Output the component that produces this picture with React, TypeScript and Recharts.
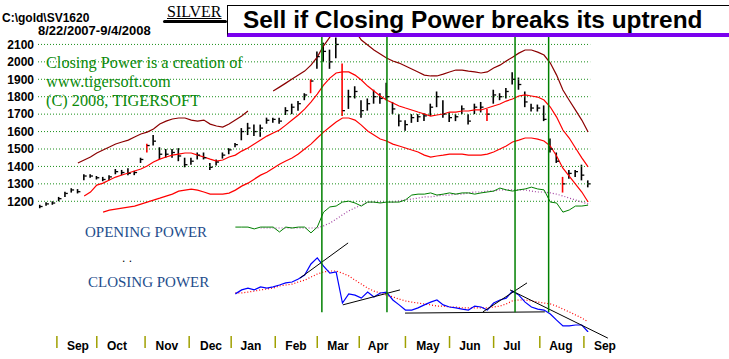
import {
  ComposedChart,
  Line,
  Bar,
  Cell,
  Scatter,
  XAxis,
  YAxis,
  ReferenceLine,
} from 'recharts';

// trading-day index of each sample (day 0 = 8/22/2007), one sample every 3 sessions
const dayIdx = [
  0, 3, 6, 9, 12, 15, 18, 21, 24, 27, 30, 33, 36, 39, 42, 45, 48, 51, 54, 57, 60, 63,
  66, 69, 72, 75, 78, 81, 84, 87, 90, 93, 96, 99, 102, 105, 108, 111, 114, 117, 120,
  123, 126, 129, 132, 135, 138, 141, 144, 147, 150, 153, 156, 159, 162, 165, 168, 171,
  174, 177, 180, 183, 186, 189, 192, 195, 198, 201, 204, 207, 210, 213, 216, 219, 222,
  225, 228, 231, 234, 237, 240, 243, 246, 249, 252, 255, 258, 261,
];

// silver price bars
const high = [
  1180, 1195, 1200, 1225, 1255, 1275, 1270, 1355, 1355, 1345,
  1340, 1350, 1385, 1380, 1390, 1375, 1450, 1530, 1580, 1510,
  1500, 1500, 1505, 1450, 1450, 1480, 1480, 1420, 1440, 1480,
  1505, 1535, 1620, 1650, 1640, 1640, 1680, 1680, 1680, 1740,
  1760, 1775, 1820, 1900, 2060, 2110, 2070, 2140, 1990, 1840,
  1860, 1780, 1790, 1840, 1820, 1880, 1770, 1700, 1665, 1700,
  1700, 1705, 1760, 1830, 1780, 1710, 1700, 1750, 1700, 1760,
  1770, 1730, 1840, 1820, 1850, 1940, 1910, 1830, 1760, 1755,
  1750, 1560, 1480, 1340, 1380, 1380, 1410, 1320,
];
const low = [
  1160, 1175, 1180, 1200, 1225, 1250, 1245, 1320, 1335, 1325,
  1315, 1320, 1355, 1350, 1350, 1350, 1420, 1480, 1520, 1440,
  1450, 1450, 1430, 1395, 1410, 1440, 1440, 1380, 1405, 1445,
  1470, 1510, 1550, 1580, 1575, 1570, 1645, 1650, 1645, 1695,
  1700, 1720, 1780, 1820, 1960, 2000, 1960, 2020, 1690, 1730,
  1790, 1680, 1720, 1760, 1760, 1780, 1700, 1630, 1605, 1650,
  1655, 1660, 1690, 1740, 1680, 1655, 1660, 1700, 1640, 1700,
  1710, 1660, 1760, 1780, 1790, 1870, 1840, 1740, 1715, 1715,
  1660, 1480, 1420, 1250, 1330, 1340, 1320, 1280,
];
const close = [
  1170, 1185, 1190, 1215, 1245, 1265, 1255, 1345, 1345, 1335,
  1325, 1340, 1370, 1365, 1360, 1365, 1440, 1520, 1545, 1470,
  1470, 1480, 1460, 1410, 1430, 1465, 1450, 1395, 1425, 1465,
  1495, 1525, 1600, 1620, 1600, 1620, 1665, 1670, 1660, 1720,
  1740, 1760, 1810, 1890, 2030, 2060, 2000, 2100, 1720, 1800,
  1830, 1720, 1760, 1800, 1790, 1800, 1730, 1660, 1640, 1680,
  1685, 1690, 1740, 1800, 1700, 1680, 1685, 1730, 1660, 1740,
  1740, 1700, 1810, 1800, 1830, 1900, 1870, 1770, 1735, 1735,
  1670, 1500, 1430, 1300, 1360, 1370, 1350, 1300,
];
// samples whose bar is painted red
const redBars = [17, 43, 48, 71, 83];

// bands
const upperBand = [
  null, null, null, null, null, null, 1420, 1437, 1454, 1477,
  1494, 1511, 1529, 1540, 1551, 1569, 1586, 1597, 1615, 1643,
  1660, 1672, 1678, 1678, 1666, 1660, 1666, 1643, 1632, 1626,
  1643, 1666, 1689, 1718, null, null, null, 1833, 1855, 1878,
  1901, 1924, 1947, 1981, 2027, 2092, 2142, 2183, 2200, 2205,
  2177, 2125, 2097, 2068, 2045, 2022, 2005, 1993, 1976, 1959,
  1942, 1924, 1919, 1919, 1930, 1942, 1953, 1953, 1947, 1942,
  1936, 1942, 1965, 1981, 2005, 2027, 2050, 2068, 2068, 2056,
  2039, 1993, 1924, 1838, 1780, 1723, 1666, 1597,
];
const midBand = [
  null, null, null, null, null, null, null, 1230, 1253, 1293,
  1304, 1322, 1339, 1351, 1362, 1374, 1385, 1402, 1425, 1442,
  1454, 1465, 1471, 1477, 1477, 1465, 1454, 1442, 1431, 1437,
  1454, 1465, 1488, 1506, 1529, 1551, 1574, 1592, 1609, 1637,
  1666, 1695, 1729, 1769, 1815, 1867, 1907, 1936, 1942, 1942,
  1924, 1896, 1861, 1833, 1804, 1781, 1764, 1747, 1735, 1724,
  1712, 1701, 1689, 1695, 1701, 1712, 1712, 1718, 1718, 1724,
  1724, 1735, 1747, 1758, 1775, 1787, 1804, 1810, 1804, 1798,
  1781, 1741, 1683, 1609, 1563, 1506, 1449, 1397,
];
const lowBand = [
  null, null, null, null, null, null, null, null, null, null,
  1138, 1149, 1155, 1161, 1167, 1172, 1184, 1195, 1207, 1218,
  1230, 1241, 1258, 1264, 1270, 1264, 1253, 1241, 1241, 1241,
  1247, 1264, 1287, 1304, 1327, 1350, 1367, 1390, 1413, 1431,
  1448, 1471, 1500, 1528, 1563, 1597, 1626, 1655, 1678, 1678,
  1666, 1637, 1603, 1580, 1557, 1546, 1528, 1517, 1506, 1494,
  1483, 1465, 1454, 1460, 1465, 1471, 1471, 1471, 1465, 1465,
  1465, 1471, 1483, 1500, 1517, 1540, 1551, 1563, 1563, 1557,
  1546, 1517, 1460, 1390, 1345, 1299, 1253, 1196,
];

// opening / closing power (index units 0-100)
const openPower = [
  null, null, null, null, null, null, null, null, null, null,
  null, null, null, null, null, null, null, null, null, null,
  null, null, null, null, null, null, null, null, null, null,
  null, 34.4, 34.4, 34.4, 33.8, 34.4, 34.4, 34.4, 32.8, 34.4,
  34.1, 34.4, 34.4, 32.5, 34.4, 39.3, 41, 41.3, 42.6, 42.9,
  42.3, 41.3, 42.6, 42.6, 42.3, 42.6, 42.6, 42.6, 43.3, 44.9,
  45.2, 45.2, 45.6, 44.9, 45.2, 45.6, 45.2, 45.6, 45.6, 45.2,
  45.6, 45.9, 46.2, 47.2, 46.6, 46.2, 46.6, 46.9, 47.5, 46.9,
  46.6, 42.6, 42.3, 39.3, 40, 41.3, 41.3, 41.6,
];
const openPowerMa = [
  null, null, null, null, null, null, null, null, null, null,
  null, null, null, null, null, null, null, null, null, null,
  null, null, null, null, null, null, null, null, null, null,
  null, null, null, null, null, 34.1, 34.1, 34.1, 34.1, 34.1,
  34.1, 34.1, 34.1, 34.1, 34.1, 34.8, 35.7, 37, 38.4, 39.7,
  40.7, 41.6, 42.6, 42.6, 42.6, 42.6, 42.6, 43, 43.3, 43.6,
  43.9, 44.3, 44.3, 44.6, 44.9, 44.9, 45.2, 45.2, 45.6, 45.9,
  45.9, 46.2, 46.2, 46.6, 46.6, 46.6, 46.6, 46.6, 46.2, 45.9,
  45.9, 45.6, 45.2, 44.6, 43.9, 43.3, 42.6, 42,
];
const closePower = [
  null, null, null, null, null, null, null, null, null, null,
  null, null, null, null, null, null, null, null, null, null,
  null, null, null, null, null, null, null, null, null, null,
  null, 12.5, 13.8, 14.4, 13.8, 14.8, 14.4, 14.8, 15.4, 16.1,
  16.4, 17.4, 18.7, 22.3, 24.3, 21.6, 19.3, 19.7, 9.5, 12.5,
  12.1, 11.1, 13.1, 11.5, 12.8, 13.1, 10.5, 8.9, 7.2, 7.2,
  7.9, 8.9, 9.8, 10.5, 8.9, 8.2, 7.9, 7.5, 7.2, 8.5,
  8.2, 7.2, 9.5, 10.5, 11.1, 13.4, 12.1, 9.8, 8.2, 7.5,
  7.2, 5.9, 3.9, 2, 2, 2.3, 2.3, 0,
];
const closePowerMa = [
  null, null, null, null, null, null, null, null, null, null,
  null, null, null, null, null, null, null, null, null, null,
  null, null, null, null, null, null, null, null, null, null,
  null, 12.8, 12.8, 13.1, 13.4, 13.8, 14.1, 14.4, 15.1, 15.4,
  15.7, 16.4, 17, 18, 19, 19.7, 20, 20, 19.3, 18.4,
  17, 15.7, 14.4, 13.4, 12.8, 12.1, 11.5, 10.8, 10.2, 9.8,
  9.5, 9.2, 8.9, 8.5, 8.5, 8.2, 8.2, 7.9, 7.9, 7.9,
  7.9, 7.9, 8.2, 8.5, 9.2, 10.2, 10.5, 10.5, 10.2, 9.8,
  9.5, 9.2, 8.5, 7.5, 6.6, 5.6, 4.6, 3.3,
];

// closing power trendlines: [dayFrom, powerFrom, dayTo, powerTo]
const trendLines = [
  [123.8, 17.7, 146.7, 29.2],
  [144.2, 8.9, 171.4, 13.8],
  [173.8, 6.2, 240.4, 6.6],
  [210.9, 6.6, 231.9, 16.1],
  [223.8, 13.8, 270.4, -2],
];
// sell signals (trading-day index)
const signalDays = [134.2, 165.2, 226.2, 242.2];

const priceTicks = [1200, 1300, 1400, 1500, 1600, 1700, 1800, 1900, 2000, 2100];
const monthNames = ['Sep', 'Oct', 'Nov', 'Dec', 'Jan', 'Feb', 'Mar', 'Apr', 'May', 'Jun', 'Jul', 'Aug', 'Sep'];
const monthStarts = [8, 27, 50, 71, 91, 112, 132, 152, 174, 195, 216, 238, 259];
const monthLabelAt = [18, 36.6, 60.4, 81.4, 100.4, 121.9, 141.9, 161, 184.7, 204.7, 224.7, 248, 269];

const data = dayIdx.map((d, k) => ({
  idx: d,
  range: [low[k], high[k]],
  close: close[k],
  upper: upperBand[k],
  mid: midBand[k],
  lower: lowBand[k],
  op: openPower[k],
  opMa: openPowerMa[k],
  cp: closePower[k],
  cpMa: closePowerMa[k],
}));

const SANS = 'Arial, "Liberation Sans", sans-serif';
const SERIF = '"Times New Roman", "Liberation Serif", serif';

function MonthTick(props: any) {
  const { x, y, payload } = props;
  const s = monthStarts.indexOf(payload.value);
  if (s >= 0) {
    return <line x1={x} x2={x} y1={y + 4} y2={y + 16} stroke="#a0a000" strokeWidth={1.5} />;
  }
  const m = monthLabelAt.indexOf(payload.value);
  return (
    <text x={x} y={y + 17.5} textAnchor="middle" fontFamily={SANS} fontWeight="bold" fontSize={12} fill="#000">
      {monthNames[m]}
    </text>
  );
}

function CloseTick(props: any) {
  const { cx, cy } = props;
  if (cx == null || cy == null) return null;
  return <line x1={cx} x2={cx + 2.5} y1={cy} y2={cy} stroke="#000" strokeWidth={1.3} />;
}

export default function App() {
  return (
    <div style={{ position: 'absolute', left: 0, top: 0, width: 729, height: 359, background: '#fff' }}>
      <ComposedChart width={729} height={359} data={data} margin={{ top: 27, right: 101, bottom: 0, left: 0 }}>
        <XAxis
          type="number"
          dataKey="idx"
          domain={[-1, 280]}
          allowDataOverflow
          ticks={[...monthStarts, ...monthLabelAt]}
          interval={0}
          tick={<MonthTick />}
          tickLine={false}
          axisLine={false}
          tickSize={0}
          tickMargin={0}
          height={27}
        />
        <YAxis
          yAxisId="price"
          width={38}
          domain={[450, 2200]}
          allowDataOverflow
          ticks={priceTicks}
          interval={0}
          tickLine={false}
          axisLine={false}
          tickSize={0}
          tickMargin={4}
          tick={{ fontFamily: SANS, fontWeight: 'bold', fontSize: 12, fill: '#000' }}
        />
        <YAxis yAxisId="pw" hide domain={[0, 100]} allowDataOverflow />

        {priceTicks.map((v) => (
          <ReferenceLine
            key={'g' + v}
            yAxisId="price"
            segment={[{ x: -1, y: v }, { x: 262, y: v }]}
            stroke="#1a8f1a"
            strokeDasharray="1 2"
          />
        ))}

        <Line yAxisId="price" dataKey="upper" stroke="#8b0000" strokeWidth={1.2} dot={false} isAnimationActive={false} />
        <Line yAxisId="price" dataKey="mid" stroke="#ff0000" strokeWidth={1.2} dot={false} isAnimationActive={false} />
        <Line yAxisId="price" dataKey="lower" stroke="#ff0000" strokeWidth={1.2} dot={false} isAnimationActive={false} />

        <Bar yAxisId="price" dataKey="range" barSize={1.6} fill="#000" isAnimationActive={false}>
          {data.map((_d, k) => (
            <Cell key={'c' + k} fill={redBars.includes(k) ? '#ff0000' : '#000'} />
          ))}
        </Bar>
        <Scatter yAxisId="price" dataKey="close" shape={<CloseTick />} isAnimationActive={false} />

        <Line yAxisId="pw" dataKey="opMa" stroke="#a040a0" strokeWidth={1.2} strokeDasharray="1 2" dot={false} isAnimationActive={false} />
        <Line yAxisId="pw" dataKey="op" stroke="#008000" strokeWidth={1} dot={false} isAnimationActive={false} />
        <Line yAxisId="pw" dataKey="cpMa" stroke="#ff0000" strokeWidth={1.2} strokeDasharray="1 2" dot={false} isAnimationActive={false} />
        <Line yAxisId="pw" dataKey="cp" stroke="#0000ff" strokeWidth={1.2} dot={false} isAnimationActive={false} />

        {trendLines.map((t, k) => (
          <ReferenceLine
            key={'t' + k}
            yAxisId="pw"
            segment={[{ x: t[0], y: t[1] }, { x: t[2], y: t[3] }]}
            stroke="#000"
            strokeWidth={1}
            ifOverflow="visible"
          />
        ))}
        {signalDays.map((d) => (
          <ReferenceLine
            key={'s' + d}
            yAxisId="pw"
            segment={[{ x: d, y: 6.5 }, { x: d, y: 100 }]}
            stroke="#008000"
            strokeWidth={1.5}
          />
        ))}
      </ComposedChart>

      {/* header texts */}
      <div style={{ position: 'absolute', left: 2, top: 12, font: `bold 12px ${SANS}`, lineHeight: '12px' }}>C:\gold\SV1620</div>
      <div style={{ position: 'absolute', left: 38, top: 25, font: `bold 13px ${SANS}`, lineHeight: '12px' }}>8/22/2007-9/4/2008</div>
      <div style={{ position: 'absolute', left: 167, top: 4, font: `16px ${SERIF}`, textDecoration: 'underline', lineHeight: '15px' }}>SILVER</div>
      <div style={{ position: 'absolute', left: 163, top: 20, width: 64, height: 3, background: '#000', borderRadius: 2 }} />

      <div
        style={{
          position: 'absolute',
          left: 227,
          top: 5,
          width: 491,
          height: 27,
          background: '#fff',
          borderTop: '1px solid #000',
          borderLeft: '1px solid #000',
          borderRight: '1px solid #000',
          borderBottom: '4px solid #7a00ee',
          font: `bold 24.4px ${SANS}`,
          lineHeight: '27px',
          paddingLeft: 15,
          boxSizing: 'content-box',
          whiteSpace: 'nowrap',
        }}
      >
        Sell if Closing Power breaks its uptrend
      </div>

      {/* credits */}
      <div style={{ position: 'absolute', left: 46, top: 53, color: '#0a8a0a', font: `16.3px ${SERIF}`, lineHeight: '19px' }}>
        <div>Closing Power is a creation of</div>
        <div>www.tigersoft.com</div>
        <div>(C) 2008, TIGERSOFT</div>
      </div>

      <div style={{ position: 'absolute', left: 85, top: 224, color: '#1e4d8c', font: `15px ${SERIF}`, lineHeight: '17px' }}>OPENING POWER</div>
      <div style={{ position: 'absolute', left: 122, top: 251, color: '#000', font: `12px ${SANS}`, lineHeight: '14px' }}>. .</div>
      <div style={{ position: 'absolute', left: 88, top: 274, color: '#1e4d8c', font: `15px ${SERIF}`, lineHeight: '17px' }}>CLOSING POWER</div>
    </div>
  );
}
